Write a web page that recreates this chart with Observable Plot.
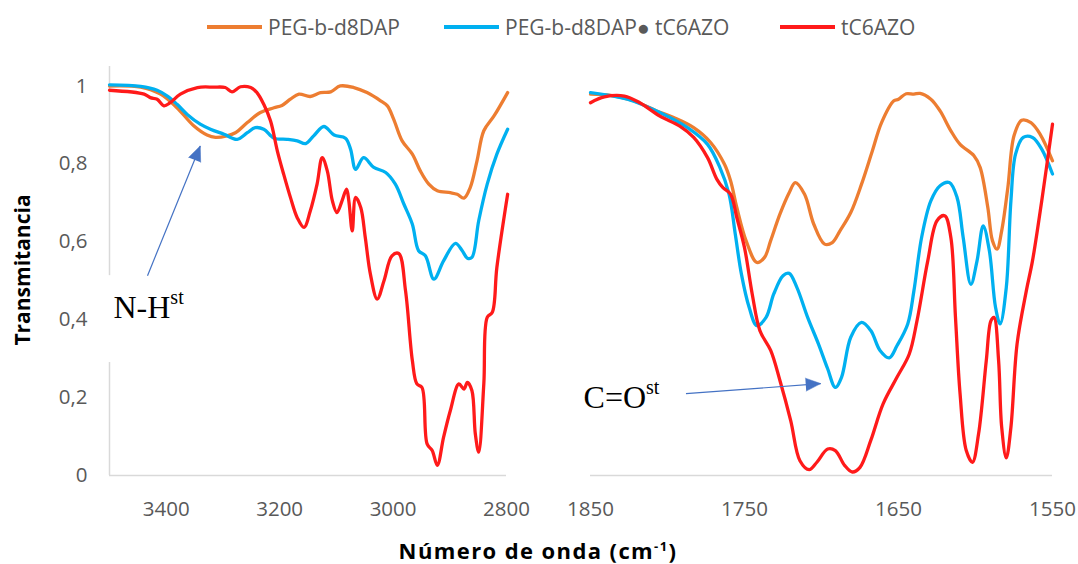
<!DOCTYPE html>
<html><head><meta charset="utf-8">
<script src="https://cdn.jsdelivr.net/npm/d3@7"></script>
<script src="https://cdn.jsdelivr.net/npm/@observablehq/plot@0.6"></script>
<style>
body{margin:0;background:#fff;}
#chart{position:relative;width:1078px;height:564px;font-family:"Open Sans",sans-serif;overflow:hidden;background:#fff;}
.leg{position:absolute;top:12px;display:flex;align-items:center;font-size:21px;color:#595959;white-space:nowrap;line-height:30px;}
.sw{display:inline-block;width:55px;height:4px;margin-right:6px;}
#ytitle{position:absolute;left:22px;top:270px;transform:translate(-50%,-50%) rotate(-90deg);font-weight:bold;font-size:21px;color:#000;white-space:nowrap;}
#xtitle{position:absolute;left:538px;top:550px;transform:translate(-50%,-50%);font-weight:bold;font-size:22px;letter-spacing:1.4px;color:#000;white-space:nowrap;}
#xtitle sup{font-size:13px;}
.panel{position:absolute;top:50px;}
</style></head>
<body>
<div id="chart">
  <div id="legend"></div>
  <div id="ytitle">Transmitancia</div>
  <div id="xtitle">Número de onda (cm<sup>-1</sup>)</div>
  <div class="panel" id="left" style="left:0px"></div>
  <div class="panel" id="right" style="left:540px"></div>
</div>
<script>
// ---------- DATA ----------
const seriesNames = ["PEG-b-d8DAP", "PEG-b-d8DAP\u25CF tC6AZO", "tC6AZO"];
const yTicks = [0, 0.2, 0.4, 0.6, 0.8, 1];
const leftTicks = [3400, 3200, 3000, 2800];
const rightTicks = [1850, 1750, 1650, 1550];
const leftDomain = [3500, 2800];
const rightDomain = [1850, 1550];

// N-H region (wavenumber, transmittance)
const pegNH = [[3500,1.0],[3445,0.997],[3410,0.979],[3381,0.944],[3351,0.897],[3328,0.874],[3313,0.868],[3293,0.872],[3278,0.880],[3257,0.906],[3234,0.932],[3210,0.944],[3196,0.950],[3181,0.966],[3166,0.979],[3146,0.973],[3128,0.983],[3110,0.985],[3093,1.0],[3069,0.996],[3046,0.983],[3022,0.962],[3010,0.949],[2999,0.915],[2984,0.859],[2966,0.825],[2952,0.782],[2937,0.748],[2922,0.731],[2899,0.726],[2887,0.722],[2875,0.712],[2864,0.739],[2852,0.808],[2840,0.885],[2822,0.923],[2798,0.983]];
const pegAzoNH = [[3500,1.003],[3445,0.999],[3416,0.989],[3398,0.974],[3381,0.953],[3363,0.927],[3340,0.902],[3322,0.889],[3298,0.876],[3275,0.863],[3257,0.880],[3243,0.893],[3228,0.889],[3210,0.866],[3187,0.863],[3169,0.859],[3154,0.852],[3140,0.872],[3122,0.896],[3104,0.874],[3084,0.866],[3075,0.838],[3066,0.786],[3052,0.816],[3034,0.791],[3013,0.778],[2996,0.748],[2981,0.697],[2966,0.645],[2955,0.577],[2943,0.564],[2928,0.504],[2911,0.551],[2890,0.596],[2878,0.577],[2869,0.558],[2861,0.560],[2849,0.654],[2834,0.748],[2817,0.825],[2798,0.889]];
const azoNH = [[3500,0.989],[3439,0.979],[3428,0.970],[3416,0.966],[3404,0.949],[3393,0.957],[3375,0.979],[3345,0.996],[3316,0.997],[3296,0.996],[3284,0.985],[3269,0.998],[3251,0.996],[3240,0.983],[3228,0.953],[3216,0.910],[3204,0.833],[3193,0.774],[3181,0.714],[3169,0.662],[3157,0.637],[3146,0.679],[3134,0.748],[3125,0.816],[3116,0.782],[3107,0.705],[3099,0.675],[3090,0.705],[3082,0.735],[3078,0.705],[3072,0.628],[3066,0.714],[3057,0.688],[3049,0.611],[3040,0.517],[3028,0.453],[3016,0.500],[3002,0.564],[2990,0.570],[2978,0.474],[2966,0.295],[2958,0.235],[2949,0.226],[2940,0.081],[2931,0.064],[2922,0.026],[2911,0.098],[2899,0.167],[2884,0.235],[2875,0.222],[2869,0.239],[2861,0.218],[2855,0.107],[2849,0.060],[2840,0.235],[2834,0.406],[2825,0.419],[2817,0.534],[2798,0.722]];

// C=O region
const pegCO = [[1850,0.979],[1837,0.976],[1822,0.962],[1807,0.936],[1796,0.919],[1783,0.893],[1772,0.855],[1763,0.799],[1759,0.756],[1755,0.688],[1749,0.603],[1742,0.547],[1737,0.560],[1733,0.603],[1727,0.671],[1721,0.726],[1717,0.752],[1711,0.722],[1705,0.645],[1698,0.594],[1693,0.598],[1688,0.628],[1681,0.675],[1674,0.748],[1667,0.833],[1661,0.906],[1653,0.962],[1650,0.966],[1645,0.980],[1640,0.979],[1636,0.981],[1629,0.966],[1623,0.936],[1616,0.885],[1610,0.850],[1601,0.821],[1597,0.791],[1592,0.688],[1589,0.603],[1586,0.581],[1583,0.628],[1579,0.739],[1575,0.872],[1570,0.912],[1564,0.906],[1558,0.876],[1550,0.808]];
const pegAzoCO = [[1850,0.983],[1826,0.966],[1805,0.932],[1787,0.893],[1774,0.850],[1766,0.791],[1760,0.722],[1756,0.620],[1752,0.517],[1747,0.432],[1742,0.385],[1736,0.406],[1731,0.466],[1725,0.513],[1721,0.519],[1716,0.483],[1709,0.406],[1702,0.338],[1696,0.274],[1691,0.226],[1687,0.252],[1681,0.355],[1674,0.393],[1668,0.372],[1662,0.321],[1656,0.302],[1651,0.333],[1644,0.389],[1640,0.474],[1635,0.611],[1629,0.705],[1623,0.744],[1617,0.752],[1612,0.714],[1608,0.611],[1603,0.491],[1599,0.551],[1595,0.641],[1591,0.577],[1587,0.432],[1584,0.389],[1580,0.483],[1577,0.705],[1574,0.825],[1569,0.868],[1563,0.868],[1557,0.838],[1550,0.774]];
const azoCO = [[1850,0.957],[1841,0.972],[1828,0.974],[1818,0.957],[1805,0.923],[1792,0.897],[1783,0.868],[1774,0.816],[1768,0.761],[1764,0.739],[1759,0.722],[1755,0.662],[1750,0.585],[1745,0.466],[1740,0.372],[1733,0.321],[1727,0.244],[1720,0.141],[1714,0.038],[1708,0.015],[1703,0.034],[1696,0.068],[1691,0.064],[1685,0.026],[1680,0.009],[1675,0.021],[1668,0.090],[1660,0.184],[1651,0.252],[1643,0.312],[1638,0.397],[1631,0.551],[1625,0.654],[1620,0.667],[1616,0.611],[1613,0.406],[1610,0.209],[1606,0.064],[1602,0.034],[1598,0.107],[1593,0.295],[1590,0.397],[1588,0.406],[1585,0.295],[1583,0.124],[1580,0.045],[1577,0.124],[1573,0.338],[1567,0.474],[1563,0.551],[1557,0.705],[1550,0.902]];

// Annotations (data coordinates)
const nhLabel = {x: 3493, y: 0.431, text: "N-H", sup: "st"};
const nhArrow = {x1: 3433, y1: 0.513, x2: 3340, y2: 0.846, angle: 22};
const nhBox = {x1: 3512, x2: 3355, y1: 0.29, y2: 0.513};
const coLabel = {x: 1854.5, y: 0.2, text: "C=O", sup: "st"};
const coArrow = {x1: 1788, y1: 0.210, x2: 1700.5, y2: 0.236, angle: 86};

// ---------- STYLE ----------
const COLORS = ["#ED7D31", "#00B0F0", "#FF1A1A"];
const ARROW = "#4472C4";
const AXIS = "#D9D9D9";
const LW = 3.3;
const fmtY = d => String(d).replace(".", ",");

// Legend
const legendX = [207, 444, 780];
const legend = document.getElementById("legend");
seriesNames.forEach((n, i) => {
  const it = document.createElement("div");
  it.className = "leg";
  it.style.left = legendX[i] + "px";
  it.innerHTML = `<span class="sw" style="background:${COLORS[i]}"></span><span>${n}</span>`;
  legend.appendChild(it);
});

function lines(sets) {
  return sets.map((s, i) => Plot.line(s, {x: d => d[0], y: d => d[1], stroke: COLORS[i], strokeWidth: LW, curve: "catmull-rom", strokeLinejoin: "round"}));
}
function annot(label, arrow) {
  return [
    Plot.link([arrow], {x1: "x1", y1: "y1", x2: "x2", y2: "y2", stroke: ARROW, strokeWidth: 1.2}),
    Plot.vector([arrow], {x: "x2", y: "y2", rotate: arrow.angle, length: 15, r: 6.5, shape: "spike", anchor: "end", fill: ARROW, stroke: ARROW, strokeWidth: 0.5}),
    Plot.text([label], {x: "x", y: "y", text: "text", textAnchor: "start", fontFamily: "Liberation Serif", fontSize: 32, fill: "#000"})
  ];
}
function addSup(svg, label) {
  svg.querySelectorAll("text").forEach(t => {
    if (t.textContent === label.text) {
      const ts = document.createElementNS("http://www.w3.org/2000/svg", "tspan");
      ts.setAttribute("dy", "-14");
      ts.setAttribute("font-size", "20");
      ts.textContent = label.sup;
      t.appendChild(ts);
    }
  });
}

const common = {
  height: 480, marginTop: 16, marginBottom: 55,
  style: {fontFamily: "Open Sans", fontSize: "20.5px", color: "#595959", overflow: "visible", background: "transparent"}
};

const leftPlot = Plot.plot({
  ...common,
  width: 530, marginLeft: 109, marginRight: 24,
  x: {domain: leftDomain, label: null},
  y: {domain: [0, 1.05], label: null},
  marks: [
    Plot.axisX({ticks: leftTicks, tickSize: 0, tickPadding: 26, tickFormat: d => String(d), fill: "#595959"}),
    Plot.axisY({ticks: yTicks, tickSize: 0, tickPadding: 22, tickFormat: fmtY, fill: "#595959"}),
    Plot.ruleY([0], {stroke: AXIS, strokeWidth: 1.5}),
    Plot.ruleX([leftDomain[0]], {y1: 0, y2: 1.05, stroke: AXIS, strokeWidth: 1.5}),
    Plot.rect([nhBox], {x1: "x1", x2: "x2", y1: "y1", y2: "y2", fill: "#fff"}),
    ...lines([pegNH, pegAzoNH, azoNH]),
    ...annot(nhLabel, nhArrow)
  ]
});
addSup(leftPlot, nhLabel);
document.getElementById("left").appendChild(leftPlot);

const rightPlot = Plot.plot({
  ...common,
  width: 538, marginLeft: 50, marginRight: 26,
  x: {domain: rightDomain, label: null},
  y: {domain: [0, 1.05], label: null, axis: null},
  marks: [
    Plot.axisX({ticks: rightTicks, tickSize: 0, tickPadding: 26, tickFormat: d => String(d), fill: "#595959"}),
    Plot.ruleY([0], {stroke: AXIS, strokeWidth: 1.5}),
    ...lines([pegCO, pegAzoCO, azoCO]),
    ...annot(coLabel, coArrow)
  ]
});
addSup(rightPlot, coLabel);
document.getElementById("right").appendChild(rightPlot);
</script>
</body></html>
